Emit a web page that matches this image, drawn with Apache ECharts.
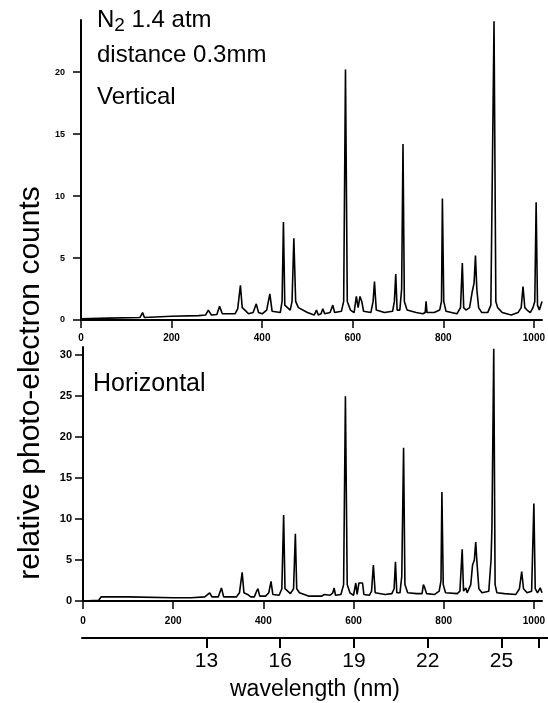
<!DOCTYPE html>
<html><head><meta charset="utf-8">
<script src="https://cdn.jsdelivr.net/npm/echarts@6/dist/echarts.min.js"></script>
<style>html,body{margin:0;padding:0;background:#fff}#c{width:548px;height:703px}</style>
</head><body><div id="c"></div>
<script>
// channel index (x) and counts for the "Vertical" spectrum
const verticalX = [0,60,130,136,140,200,260,275,281,288,300,306,312,340,346,352,356,362,370,380,387,392,400,410,417,422,440,444,447,450,462,466,470,474,480,500,515,520,524,530,534,538,550,556,560,575,580,584,588,595,603,608,612,616,620,624,640,645,648,652,670,688,692,695,698,704,708,711,714,720,740,755,760,762,764,780,792,796,798,801,806,830,838,842,845,850,858,864,868,871,874,878,885,898,905,912,916,920,930,950,965,972,976,980,985,992,998,1002,1005,1008,1012,1018];
const verticalY = [0.1,0.15,0.2,0.6,0.2,0.3,0.35,0.4,0.8,0.4,0.45,1.1,0.5,0.5,0.9,2.8,1.0,0.8,0.5,0.6,1.3,0.6,0.5,0.8,2.1,0.7,0.6,1.5,7.9,1.2,0.8,1.5,6.6,1.5,1.0,0.6,0.4,0.8,0.4,0.5,0.9,0.5,0.6,1.2,0.6,0.7,1.5,20.2,1.5,0.8,0.6,1.9,1.0,1.9,1.5,0.7,0.6,1.5,3.1,0.8,0.6,0.7,1.5,3.7,0.8,0.8,2.5,14.2,1.5,0.8,0.6,0.5,0.6,1.5,0.6,0.6,0.8,1.5,9.8,1.5,0.7,0.5,1.0,4.6,1.0,0.8,1.0,2.3,3.0,5.2,2.5,1.0,0.6,0.6,1.2,24.1,1.5,1.0,0.6,0.4,0.6,1.0,2.7,1.0,0.8,0.6,1.0,1.5,9.5,1.2,0.8,1.5];
// channel index (x) and counts for the "Horizontal" spectrum
const horizontalX = [0,35,40,100,200,240,270,281,286,300,307,312,340,347,353,357,365,372,380,385,388,392,405,412,417,421,435,441,445,448,460,467,471,474,480,500,530,535,548,554,557,560,572,578,582,586,592,600,605,608,612,620,623,635,640,644,648,670,685,690,693,696,703,707,711,714,720,740,752,755,758,762,780,790,794,796,799,804,830,836,841,844,849,852,860,864,868,871,874,878,885,900,905,907,911,914,918,935,960,968,973,977,985,995,1000,1003,1008,1014,1018];
const horizontalY = [0.0,0.1,0.5,0.5,0.4,0.4,0.5,1.0,0.5,0.5,1.6,0.5,0.5,1.0,3.5,1.0,0.8,0.5,0.5,1.2,1.5,0.6,0.6,1.0,2.4,0.8,0.7,1.5,10.5,1.5,0.9,1.5,8.2,1.5,1.0,0.6,0.6,0.8,0.7,1.0,1.6,0.7,0.8,2.0,25.0,2.0,1.0,0.7,2.2,0.8,2.2,2.2,0.8,0.7,1.2,4.4,1.0,0.8,0.9,1.5,4.8,1.0,1.0,3.0,18.7,2.0,1.0,0.9,0.9,2.0,1.6,0.9,0.8,1.2,2.5,13.3,2.0,1.0,0.9,1.2,6.3,1.2,1.6,1.0,2.0,4.4,5.0,7.2,4.5,1.5,1.0,1.2,5.0,9.0,30.8,2.0,1.0,0.9,0.8,1.5,3.6,1.5,1.0,1.2,11.9,1.5,1.0,1.6,1.0];
const indexTicks = [0,200,400,600,800,1000];
const verticalTicks = [0,5,10,15,20];
const horizontalTicks = [0,5,10,15,20,25,30];
const wavelengthTicks = [13,16,19,22,25];
const wavelengthEndTick = 26.52;

const pair = (xs, ys) => xs.map((x, i) => [x, ys[i]]);
const FONT = 'Liberation Sans';
const plain = v => String(v);
const axisCommon = {
  axisLine: {show: true, lineStyle: {color: '#000', width: 2}},
  axisTick: {show: true, inside: false, length: 8, lineStyle: {color: '#000', width: 1.5}},
  splitLine: {show: false}
};

const chart = echarts.init(document.getElementById('c'), null, {renderer: 'canvas'});
chart.setOption({
  animation: false,
  backgroundColor: '#fff',
  grid: [
    {left: 81, width: 467, top: 20, height: 300},
    {left: 83, width: 464, top: 347, height: 254},
    {left: 82, width: 466, top: 637, height: 1}
  ],
  xAxis: [
    Object.assign({}, axisCommon, {gridIndex: 0, type: 'value', min: 0, max: 1018,
      axisTick: Object.assign({}, axisCommon.axisTick, {customValues: indexTicks}),
      axisLabel: {customValues: indexTicks, formatter: plain, margin: 13, fontFamily: FONT, fontSize: 10, fontWeight: 'bold', color: '#000'}}),
    Object.assign({}, axisCommon, {gridIndex: 1, type: 'value', min: 0, max: 1018,
      axisTick: Object.assign({}, axisCommon.axisTick, {customValues: indexTicks}),
      axisLabel: {customValues: indexTicks, formatter: plain, margin: 15, fontFamily: FONT, fontSize: 10, fontWeight: 'bold', color: '#000'}}),
    Object.assign({}, axisCommon, {gridIndex: 2, type: 'value', min: 7.94, max: 26.89, position: 'bottom',
      axisTick: {show: true, length: 10, customValues: wavelengthTicks.concat([wavelengthEndTick]), lineStyle: {color: '#000', width: 2}},
      axisLabel: {customValues: wavelengthTicks, formatter: plain, margin: 13, fontFamily: FONT, fontSize: 21, color: '#000'},
      name: 'wavelength (nm)', nameLocation: 'middle', nameGap: 40,
      nameTextStyle: {fontFamily: FONT, fontSize: 23, color: '#000'}})
  ],
  yAxis: [
    Object.assign({}, axisCommon, {gridIndex: 0, type: 'value', min: 0, max: 24.2,
      axisTick: Object.assign({}, axisCommon.axisTick, {customValues: verticalTicks}),
      axisLabel: {customValues: verticalTicks, formatter: plain, margin: 16, fontFamily: FONT, fontSize: 9, fontWeight: 'bold', color: '#000'}}),
    Object.assign({}, axisCommon, {gridIndex: 1, type: 'value', min: 0, max: 31,
      axisTick: Object.assign({}, axisCommon.axisTick, {customValues: horizontalTicks}),
      axisLabel: {customValues: horizontalTicks, formatter: plain, margin: 11, fontFamily: FONT, fontSize: 11, fontWeight: 'bold', color: '#000'}}),
    {gridIndex: 2, type: 'value', show: false, min: 0, max: 1}
  ],
  series: [
    {type: 'line', xAxisIndex: 0, yAxisIndex: 0, data: pair(verticalX, verticalY), showSymbol: false, symbol: 'none',
      lineStyle: {color: '#000', width: 1.6}, silent: true},
    {type: 'line', xAxisIndex: 1, yAxisIndex: 1, data: pair(horizontalX, horizontalY), showSymbol: false, symbol: 'none',
      lineStyle: {color: '#000', width: 1.6}, silent: true}
  ],
  graphic: [
    {type: 'text', left: 97, top: 8, style: {
      text: '{a|N}{s|2}{a| 1.4 atm}',
      rich: {a: {fontFamily: FONT, fontSize: 24, fill: '#000'}, s: {fontFamily: FONT, fontSize: 19, fill: '#000', verticalAlign: 'bottom', padding: [12, 0, 0, 0]}}
    }},
    {type: 'text', left: 97, top: 43, style: {text: 'distance 0.3mm', fontFamily: FONT, fontSize: 24, fill: '#000'}},
    {type: 'text', left: 97, top: 85, style: {text: 'Vertical', fontFamily: FONT, fontSize: 24, fill: '#000'}},
    {type: 'text', left: 93, top: 372, style: {text: 'Horizontal', fontFamily: FONT, fontSize: 25, fill: '#000'}},
    {type: 'text', x: 31, y: 383, rotation: Math.PI / 2, style: {
      text: 'relative photo-electron counts', fontFamily: FONT, fontSize: 30, fill: '#000', align: 'center', verticalAlign: 'middle'}}
  ]
});
</script></body></html>
